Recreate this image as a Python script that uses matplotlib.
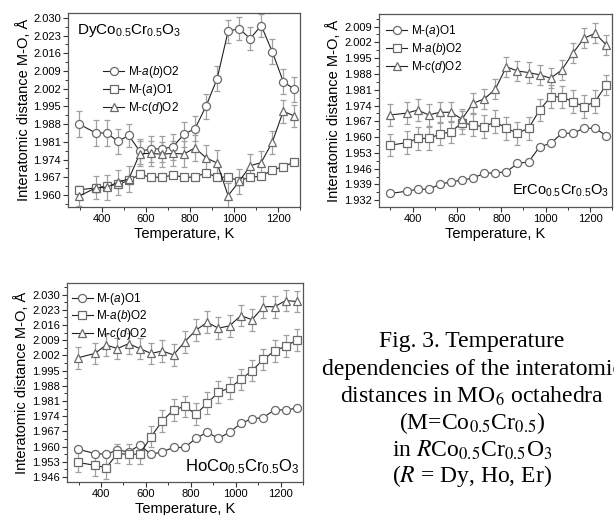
import matplotlib
matplotlib.use("Agg")
import matplotlib.pyplot as plt
from matplotlib.ticker import MultipleLocator, FormatStrFormatter

plt.rcParams["font.family"] = ["Liberation Sans", "DejaVu Sans"]
plt.rcParams["mathtext.fontset"] = "custom"
plt.rcParams["mathtext.rm"] = "Liberation Sans"
plt.rcParams["mathtext.it"] = "Liberation Sans:italic"

# temperatures, K (same grid for all three compounds)
temps = [298, 373, 423, 473, 523, 573, 623, 673, 723, 773,
         823, 873, 923, 973, 1023, 1073, 1123, 1173, 1223, 1273]

# DyCo0.5Cr0.5O3
dy_ab_o2 = [1.9880, 1.9845, 1.9845, 1.9812, 1.9835, 1.9772, 1.9782, 1.9782, 1.9790, 1.9840,
            1.9862, 1.9951, 2.0059, 2.0247, 2.0258, 2.0218, 2.0270, 2.0167, 2.0048, 2.0018]
dy_a_o1 = [1.9620, 1.9628, 1.9635, 1.9642, 1.9657, 1.9681, 1.9670, 1.9670, 1.9678, 1.9670,
           1.9670, 1.9688, 1.9670, 1.9670, 1.9656, 1.9670, 1.9674, 1.9698, 1.9712, 1.9730]
dy_cd_o2 = [1.9595, 1.9628, 1.9630, 1.9650, 1.9663, 1.9763, 1.9764, 1.9761, 1.9764, 1.9762,
            1.9786, 1.9747, 1.9726, 1.9597, 1.9653, 1.9715, 1.9728, 1.9808, 1.9931, 1.9912]
dy_ab_err = [0.0050, 0.0050, 0.0050, 0.0050, 0.0045, 0.0050, 0.0050, 0.0050, 0.0050, 0.0050,
             0.0050, 0.0050, 0.0050, 0.0045, 0.0045, 0.0045, 0.0045, 0.0050, 0.0050, 0.0050]
dy_a_err = [0.0015, 0.0015, 0.0015, 0.0015, 0.0015, 0.0012, 0.0012, 0.0012, 0.0012, 0.0012,
            0.0012, 0.0012, 0.0012, 0.0012, 0.0012, 0.0012, 0.0012, 0.0012, 0.0012, 0.0012]
dy_cd_err = [0.0040, 0.0045, 0.0050, 0.0050, 0.0050, 0.0050, 0.0050, 0.0050, 0.0050, 0.0050,
             0.0050, 0.0050, 0.0050, 0.0050, 0.0050, 0.0045, 0.0045, 0.0045, 0.0045, 0.0045]

# ErCo0.5Cr0.5O3
er_a_o1 = [1.9350, 1.9360, 1.9369, 1.9369, 1.9390, 1.9402, 1.9409, 1.9419, 1.9439, 1.9442,
           1.9446, 1.9483, 1.9490, 1.9557, 1.9572, 1.9617, 1.9617, 1.9639, 1.9639, 1.9607]
er_ab_o2 = [1.9564, 1.9575, 1.9594, 1.9594, 1.9613, 1.9623, 1.9664, 1.9653, 1.9646, 1.9668,
            1.9639, 1.9617, 1.9639, 1.9720, 1.9779, 1.9778, 1.9757, 1.9735, 1.9757, 1.9831]
er_cd_o2 = [1.9698, 1.9706, 1.9720, 1.9698, 1.9710, 1.9710, 1.9680, 1.9750, 1.9769, 1.9812,
            1.9912, 1.9893, 1.9886, 1.9876, 1.9861, 1.9898, 1.9972, 2.0038, 2.0060, 2.0009]
er_a_err = [0.0012, 0.0012, 0.0012, 0.0012, 0.0012, 0.0012, 0.0012, 0.0012, 0.0012, 0.0012,
            0.0012, 0.0012, 0.0012, 0.0012, 0.0012, 0.0012, 0.0012, 0.0012, 0.0012, 0.0012]
er_ab_err = [0.0050, 0.0050, 0.0050, 0.0050, 0.0050, 0.0050, 0.0050, 0.0050, 0.0050, 0.0050,
             0.0050, 0.0050, 0.0050, 0.0050, 0.0050, 0.0050, 0.0050, 0.0050, 0.0050, 0.0045]
er_cd_err = [0.0050, 0.0050, 0.0050, 0.0050, 0.0045, 0.0045, 0.0045, 0.0045, 0.0045, 0.0045,
             0.0045, 0.0045, 0.0045, 0.0045, 0.0045, 0.0045, 0.0045, 0.0045, 0.0045, 0.0045]

# HoCo0.5Cr0.5O3
ho_a_o1 = [1.9588, 1.9568, 1.9565, 1.9584, 1.9576, 1.9607, 1.9564, 1.9576, 1.9596, 1.9596,
           1.9638, 1.9666, 1.9638, 1.9666, 1.9707, 1.9728, 1.9734, 1.9769, 1.9769, 1.9777]
ho_ab_o2 = [1.9527, 1.9514, 1.9503, 1.9568, 1.9565, 1.9565, 1.9646, 1.9718, 1.9769, 1.9785,
            1.9749, 1.9800, 1.9850, 1.9870, 1.9909, 1.9950, 2.0001, 2.0040, 2.0063, 2.0090]
ho_cd_o2 = [2.0009, 2.0029, 2.0068, 2.0051, 2.0074, 2.0051, 2.0029, 2.0040, 2.0022, 2.0083,
            2.0136, 2.0172, 2.0145, 2.0156, 2.0203, 2.0184, 2.0244, 2.0244, 2.0272, 2.0268]
ho_a_err = [0.0012, 0.0012, 0.0012, 0.0012, 0.0012, 0.0012, 0.0012, 0.0012, 0.0012, 0.0012,
            0.0012, 0.0012, 0.0012, 0.0012, 0.0012, 0.0012, 0.0012, 0.0012, 0.0012, 0.0012]
ho_ab_err = [0.0045, 0.0050, 0.0050, 0.0045, 0.0045, 0.0045, 0.0050, 0.0050, 0.0050, 0.0050,
             0.0050, 0.0050, 0.0050, 0.0050, 0.0050, 0.0050, 0.0050, 0.0050, 0.0050, 0.0050]
ho_cd_err = [0.0050, 0.0050, 0.0050, 0.0050, 0.0050, 0.0050, 0.0050, 0.0050, 0.0050, 0.0050,
             0.0050, 0.0050, 0.0050, 0.0050, 0.0050, 0.0050, 0.0050, 0.0050, 0.0050, 0.0050]

LBL_A_O1 = "M-($a$)O1"
LBL_AB_O2 = "M-$a$($b$)O2"
LBL_CD_O2 = "M-$c$($d$)O2"

EDGE = "#6a6a6a"
ERRC = "#a0a0a0"


def draw_series(ax, y, err, marker, label):
    ax.errorbar(temps, y, yerr=err, fmt="none", ecolor=ERRC, elinewidth=0.9,
                capsize=2.2, capthick=0.9, zorder=2)
    ax.plot(temps, y, color="#222222", linewidth=0.8, marker=marker,
            markersize=5.8, markerfacecolor="white", markeredgecolor=EDGE,
            markeredgewidth=0.9, label=label, zorder=3)


def style_axes(ax, ylim, ymajor_start):
    ax.set_xlim(248, 1300)
    ax.set_ylim(*ylim)
    ax.xaxis.set_major_locator(MultipleLocator(200))
    ax.xaxis.set_minor_locator(MultipleLocator(100))
    ax.yaxis.set_major_locator(MultipleLocator(0.007, offset=ymajor_start % 0.007))
    ax.yaxis.set_minor_locator(MultipleLocator(0.0035, offset=ymajor_start % 0.0035))
    ax.yaxis.set_major_formatter(FormatStrFormatter("%.3f"))
    ax.tick_params(which="major", direction="out", length=3.5, width=0.8,
                   labelsize=8, pad=1.5, colors="#333333", labelcolor="black")
    ax.tick_params(which="minor", direction="out", length=2, width=0.7, colors="#333333")
    for sp in ax.spines.values():
        sp.set_color("#555555")
        sp.set_linewidth(0.9)
    ax.set_xlabel("Temperature, K", fontsize=10.5, labelpad=2)
    ax.set_ylabel("Interatomic distance M-O, \u00c5", fontsize=10.5, labelpad=2)


fig = plt.figure(figsize=(6.14, 5.15), dpi=100)

# Dy panel
ax1 = fig.add_axes([0.111, 0.598, 0.378, 0.377])
draw_series(ax1, dy_ab_o2, dy_ab_err, "o", LBL_AB_O2)
draw_series(ax1, dy_a_o1, dy_a_err, "s", LBL_A_O1)
draw_series(ax1, dy_cd_o2, dy_cd_err, "^", LBL_CD_O2)
style_axes(ax1, (1.9552, 2.032), 1.960)
ax1.legend(loc="upper left", bbox_to_anchor=(0.13, 0.76), frameon=False,
           fontsize=8.5, handlelength=1.8, handletextpad=0.3, labelspacing=0.15,
           borderaxespad=0)
ax1.text(0.04, 0.955, "DyCo$_{0.5}$Cr$_{0.5}$O$_3$", transform=ax1.transAxes,
         fontsize=11, va="top", ha="left")

# Er panel
ax2 = fig.add_axes([0.617, 0.598, 0.380, 0.375])
draw_series(ax2, er_a_o1, er_a_err, "o", LBL_A_O1)
draw_series(ax2, er_ab_o2, er_ab_err, "s", LBL_AB_O2)
draw_series(ax2, er_cd_o2, er_cd_err, "^", LBL_CD_O2)
style_axes(ax2, (1.9290, 2.0146), 1.932)
ax2.legend(loc="upper left", bbox_to_anchor=(0.01, 0.975), frameon=False,
           fontsize=8.5, handlelength=1.8, handletextpad=0.3, labelspacing=0.15,
           borderaxespad=0)
ax2.text(0.985, 0.04, "ErCo$_{0.5}$Cr$_{0.5}$O$_3$", transform=ax2.transAxes,
         fontsize=10.5, va="bottom", ha="right")

# Ho panel
ax3 = fig.add_axes([0.109, 0.064, 0.3845, 0.3865])
draw_series(ax3, ho_a_o1, ho_a_err, "o", LBL_A_O1)
draw_series(ax3, ho_ab_o2, ho_ab_err, "s", LBL_AB_O2)
draw_series(ax3, ho_cd_o2, ho_cd_err, "^", LBL_CD_O2)
style_axes(ax3, (1.9437, 2.0353), 1.946)
ax3.legend(loc="upper left", bbox_to_anchor=(0.0, 0.985), frameon=False,
           fontsize=8.5, handlelength=1.8, handletextpad=0.3, labelspacing=0.15,
           borderaxespad=0)
ax3.text(0.985, 0.03, "HoCo$_{0.5}$Cr$_{0.5}$O$_3$", transform=ax3.transAxes,
         fontsize=12, va="bottom", ha="right")

# caption (second line runs off the right edge, as in the source page)
caption = [
    "Fig. 3. Temperature",
    "dependencies of the interatomic",
    "distances in MO$_6$ octahedra",
    "(M=Co$_{0.5}$Cr$_{0.5}$)",
    "in $R$Co$_{0.5}$Cr$_{0.5}$O$_3$",
    "($R$ = Dy, Ho, Er)",
]
cap_y = [342, 369, 396, 423, 450, 476]
for line, yy in zip(caption, cap_y):
    fig.text(472 / 614, 1 - yy / 515, line, ha="center", va="center",
             fontsize=17, family="Liberation Serif", math_fontfamily="stix")

fig.savefig("out.png", dpi=100)
